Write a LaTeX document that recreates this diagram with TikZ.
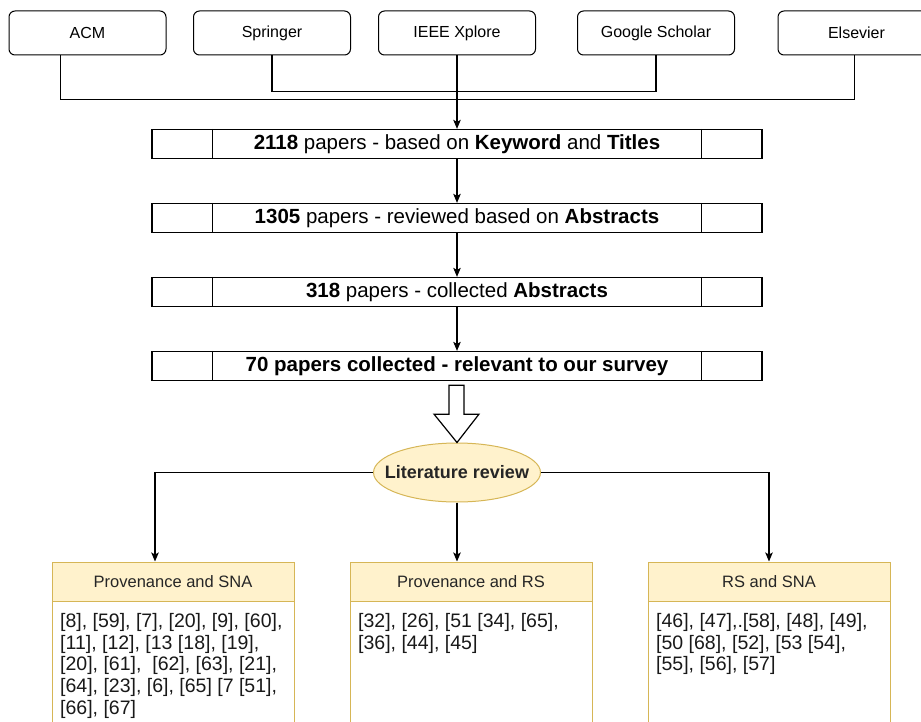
\documentclass[tikz,border=0pt]{standalone}
\usepackage{fontspec}
\setmainfont{Liberation Sans}
\usetikzlibrary{arrows.meta,shapes.geometric,positioning}
\definecolor{hdrfill}{HTML}{FFF2CC}
\definecolor{hdrline}{HTML}{D6B656}
\begin{document}
\begin{tikzpicture}[x=1pt,y=-1pt,
  srcbox/.style={draw=black,line width=1pt,rounded corners=6pt,minimum width=157pt,minimum height=44pt,inner sep=0pt,font=\fontsize{16}{18}\selectfont},
  rowbox/.style={draw=black,line width=1.3pt,minimum width=610pt,minimum height=29pt,inner sep=0pt,font=\fontsize{20.5}{22}\selectfont},
  conn/.style={line width=1.1pt,black},
  arr/.style={conn,-{Stealth[length=9pt,width=7.5pt,inset=2pt]}},
  hdrbox/.style={draw=hdrline,fill=hdrfill,line width=1pt,minimum width=242pt,minimum height=39pt,inner sep=0pt,font=\fontsize{16.5}{19}\selectfont,text=black!85},
  bodybox/.style={draw=hdrline,fill=white,line width=1pt,minimum width=242pt,minimum height=129pt,inner sep=0pt},
  bodytext/.style={anchor=north west,align=left,inner sep=0pt,font=\fontsize{19.5}{21.7}\selectfont,text=black!90},
]
\useasboundingbox (0,0) rectangle (921,722);

% sources
\node[srcbox] (acm)  at (87.5,33) {ACM};
\node[srcbox] (spr)  at (272,33) {Springer};
\node[srcbox] (ieee) at (457,33) {IEEE Xplore};
\node[srcbox] (gs)   at (656,33) {Google Scholar};
\node[srcbox] (els)  at (856.5,33) {Elsevier};

% rows
\node[rowbox] (r1) at (457,144) {\textbf{2118} papers - based on \textbf{Keyword} and \textbf{Titles}};
\node[rowbox] (r2) at (457,218) {\textbf{1305} papers - reviewed based on \textbf{Abstracts}};
\node[rowbox] (r3) at (457,292) {\textbf{318} papers - collected \textbf{Abstracts}};
\node[rowbox] (r4) at (457,366) {\textbf{70 papers collected - relevant to our survey}};
\foreach \r in {r1,r2,r3,r4}{
  \draw[line width=1.3pt] ([xshift=61pt]\r.north west) -- ([xshift=61pt]\r.south west);
  \draw[line width=1.3pt] ([xshift=-61pt]\r.north east) -- ([xshift=-61pt]\r.south east);
}

% source connectors
\draw[conn] ([xshift=-27pt]acm.south) -- ++(0,44) -| ([xshift=-2pt]els.south);
\draw[conn] (spr.south) -- ++(0,36) -| (gs.south);
\draw[arr] (ieee.south) -- (r1.north);
\draw[arr] (r1.south) -- (r2.north);
\draw[arr] (r2.south) -- (r3.north);
\draw[arr] (r3.south) -- (r4.north);

% literature review
\node[ellipse,draw=hdrline,fill=hdrfill,line width=1pt,minimum height=59pt,inner xsep=-13pt,inner ysep=0pt,font=\bfseries\fontsize{18}{20}\selectfont,text=black!85] (lit) at (457,472.5) {Literature review};

% hollow arrow
\draw[line width=1.2pt,fill=white,line join=miter]
  ([xshift=-8pt,yshift=-4pt]r4.south) -- ([xshift=7pt,yshift=-4pt]r4.south)
  -- ([xshift=7pt,yshift=-33pt]r4.south) -- ([xshift=22pt,yshift=-33pt]r4.south)
  -- (lit.north) -- ([xshift=-23pt,yshift=-33pt]r4.south)
  -- ([xshift=-8pt,yshift=-33pt]r4.south) -- cycle;

% categories
\node[bodybox,anchor=north] (b1) at (173,601) {};
\node[bodybox,anchor=north] (b2) at (471,601) {};
\node[bodybox,anchor=north] (b3) at (769,601) {};
\node[hdrbox] (h1) at (173,581.5) {Provenance and SNA};
\node[hdrbox] (h2) at (471,581.5) {Provenance and RS};
\node[hdrbox] (h3) at (769,581.5) {RS and SNA};

\node[bodytext] (t1) at (60,613) {[8], [59], [7], [20], [9], [60],\\{}[11], [12], [13 [18], [19],\\{}[20], [61],\ \ [62], [63], [21],\\{}[64], [23], [6], [65] [7 [51],\\{}[66], [67]};
\node[bodytext] (t2) at (358,613) {[32], [26], [51 [34], [65],\\{}[36], [44], [45]};
\node[bodytext] (t3) at (656,613) {[46], [47],.[58], [48], [49],\\{}[50 [68], [52], [53 [54],\\{}[55], [56], [57]};

\draw[arr] (lit.west) -| ([xshift=-18pt]h1.north);
\draw[arr] (lit.south) -- ([xshift=-14pt]h2.north);
\draw[arr] (lit.east) -| (h3.north);
\end{tikzpicture}
\end{document}
